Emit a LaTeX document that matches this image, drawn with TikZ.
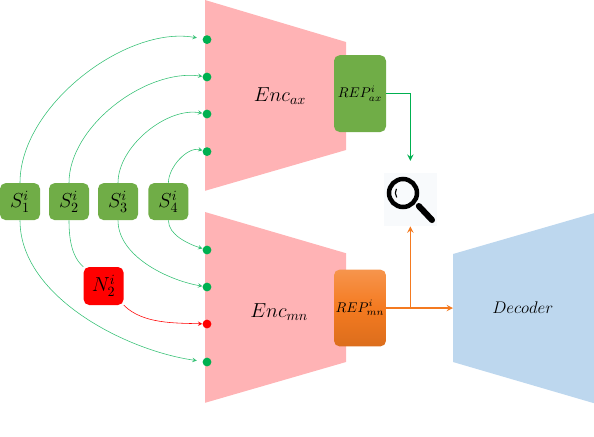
\documentclass[tikz,border=0pt]{standalone}
\usepackage{amsmath}
\definecolor{boxgreen}{HTML}{70AD47}
\definecolor{linkgreen}{HTML}{00B050}
\definecolor{encpink}{HTML}{FFB3B5}
\definecolor{decblue}{HTML}{BDD7EE}
\definecolor{reporange}{HTML}{F47A20}
\definecolor{lensback}{HTML}{F8FAFC}
\begin{document}
\begin{tikzpicture}[
    box/.style={rounded corners=4pt, minimum width=1cm, minimum height=0.925cm,
                align=center, inner sep=0pt, fill=boxgreen, font=\Large},
    rep/.style={box, minimum width=1.3cm, minimum height=1.92cm, font=\normalsize},
    dot/.style={circle, minimum size=0.22cm, inner sep=0pt, fill=linkgreen},
    arr/.style={->, >=stealth, linkgreen!80, line width=0.4pt, looseness=0.85},
    straight/.style={->, >=stealth, line width=1pt}
  ]
  \useasboundingbox (0,0) rectangle (14.85,-10.9);

  % Blocks
  \fill[encpink] (5.125,0) -- (8.65,-1.05) -- (8.65,-3.75) -- (5.125,-4.77) -- cycle;
  \fill[encpink] (5.125,-5.3) -- (8.65,-6.33) -- (8.65,-9.05) -- (5.125,-10.07) -- cycle;
  \fill[decblue] (11.325,-6.35) -- (14.85,-5.33) -- (14.85,-10.08) -- (11.325,-9.05) -- cycle;
  \coordinate (decin) at (11.325,-7.7);
  \coordinate (fork) at (10.26,-7.7);

  % Nodes
  \node[font=\Large] (encax) at (7.0,-2.4) {$Enc_{ax}$};
  \node[font=\Large] (encmn) at (6.98,-7.8) {$Enc_{mn}$};
  \node[font=\large] (dec) at (13.07,-7.7) {$Decoder$};

  \node[box] (s1) at (0.5,-5.04) {$S_1^i$};
  \node[box] (s2) at (1.725,-5.04) {$S_2^i$};
  \node[box] (s3) at (2.95,-5.04) {$S_3^i$};
  \node[box] (s4) at (4.21,-5.04) {$S_4^i$};
  \node[box, fill=red, minimum height=0.95cm] (n2) at (2.59,-7.15) {$N_2^i$};

  \node[rep] (repax) at (9,-2.34) {$REP_{ax}^i$};
  \node[rep, fill=none, top color=reporange!80!white, bottom color=reporange!90!black,
        middle color=reporange] (repmn) at (9,-7.7) {$REP_{mn}^i$};

  \node[dot] (a1) at (5.175,-0.99) {};
  \node[dot] (a2) at (5.175,-1.925) {};
  \node[dot] (a3) at (5.175,-2.85) {};
  \node[dot] (a4) at (5.175,-3.79) {};
  \node[dot] (m4) at (5.175,-6.25) {};
  \node[dot] (m3) at (5.175,-7.175) {};
  \node[dot, fill=red] (m2) at (5.175,-8.1) {};
  \node[dot] (m1) at (5.175,-9.05) {};

  % Magnifier
  \node[fill=lensback, minimum size=1.325cm, inner sep=0pt] (lens) at (10.26,-4.99) {};
  \draw[line width=3.2pt] (10.075,-4.825) circle (0.35cm);
  \draw[line width=4.3pt, line cap=round] (10.47,-5.15) -- (10.8,-5.5);
  \draw[line width=0.8pt] (9.91,-4.72) arc (150:215:0.2cm);

  % Arrows
  \draw[arr, shorten >=4pt] (s1.north) to[out=90, in=170] (a1);
  \draw[arr] (s2.north) to[out=90, in=172] (a2);
  \draw[arr] (s3.north) to[out=90, in=170] (a3);
  \draw[arr] (s4.north) to[out=90, in=165] (a4);
  \draw[arr, shorten >=4pt] (s1.south) to[out=-90, in=172] (m1);
  \draw[arr, -] (s2.south) to[out=-90, in=140] (n2.north west);
  \draw[arr] (s3.south) to[out=-90, in=170] (m3);
  \draw[arr] (s4.south) to[out=-90, in=162] (m4);
  \draw[arr, red] (n2.south east) to[out=-45, in=178] (m2);

  \draw[straight, linkgreen, shorten >=0.3cm] (repax.east) -| (lens.north);
  \draw[straight, reporange] (repmn.east) -- (decin);
  \draw[straight, reporange] (fork) -- (lens.south);
\end{tikzpicture}
\end{document}
